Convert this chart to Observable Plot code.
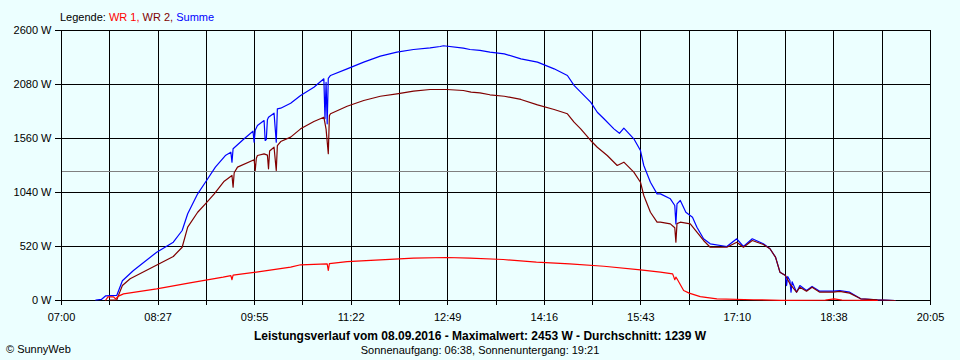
<!DOCTYPE html>
<html>
<head>
<meta charset="utf-8">
<script src="https://cdn.jsdelivr.net/npm/d3@7"></script>
<script src="https://cdn.jsdelivr.net/npm/@observablehq/plot@0.6"></script>
<style>
  html, body { margin: 0; padding: 0; background: #ECFFFF; }
  body { width: 960px; height: 360px; overflow: hidden; font-family: "Liberation Sans", Arial, sans-serif; color: #000; }
  #legend { height: 24px; box-sizing: border-box; padding-top: 12px; padding-left: 60px; font-size: 11px; line-height: 11px; white-space: nowrap; }
  #chart svg { display: block; }
  #title { padding-top: 4px; font-size: 12px; line-height: 13px; font-weight: bold; text-align: center; white-space: nowrap; }
  #sub { position: relative; padding-top: 1px; font-size: 11px; line-height: 12px; text-align: center; white-space: nowrap; }
  #copy { position: absolute; left: 6px; top: 0px; }
</style>
</head>
<body>
<div id="legend"></div>
<div id="chart"></div>
<div id="title"></div>
<div id="sub"><span id="copy"></span><span id="subtext"></span></div>
<script>
// ---- Data ----
const seriesNames = ["WR 1", "WR 2", "Summe"];
const seriesColors = ["#FF0000", "#800000", "#0000FF"];

const xTickLabels = ["07:00","08:27","09:55","11:22","12:49","14:16","15:43","17:10","18:38","20:05"];
const yTickValues = [0, 520, 1040, 1560, 2080, 2600];
const averageW = 1239;

const titleText = "Leistungsverlauf vom 08.09.2016 - Maximalwert: 2453 W - Durchschnitt: 1239 W";
const subText = "Sonnenaufgang: 06:38, Sonnenuntergang: 19:21";
const copyText = "© SunnyWeb";

// WR 1 (red)
const wr1Time = ["07:40","07:42","07:47","07:49","07:51","07:56","08:26","08:56","09:26","09:33","09:34","09:35","09:56","10:27","10:36","11:00","11:01","11:02","11:18","11:48","12:18","12:48","13:09","13:39","14:09","14:39","15:10","15:43","16:01","16:12","16:13","16:14","16:15","16:16","16:22","16:27","16:37","16:52","17:25","17:50","18:30","18:38","18:45","19:17"];
const wr1W    = [5,35,35,15,40,64,112,170,225,240,200,245,273,321,344,353,289,355,375,392,408,414,408,395,369,353,330,295,273,257,230,200,225,209,96,71,38,16,7,2,4,16,4,0];

// WR 2 (dark red)
const wr2Time = ["07:44","07:50","07:52","07:55","08:02","08:27","08:41","08:49","08:54","09:03","09:10","09:18","09:27","09:34","09:35","09:36","09:39","09:54","09:55","09:56","09:57","10:03","10:06","10:07","10:08","10:12","10:14","10:15","10:18","10:27","10:36","10:48","10:57","10:59","11:01","11:02","11:03","11:18","11:33","11:48","12:03","12:18","12:33","12:48","13:03","13:10","13:18","13:27","13:40","13:55","14:10","14:25","14:37","14:43","14:49","14:58","15:04","15:13","15:22","15:28","15:37","15:43","15:46","15:52","15:58","16:01","16:10","16:14","16:15","16:16","16:19","16:28","16:34","16:40","16:46","17:01","17:10","17:16","17:24","17:34","17:40","17:45","17:49","17:54","17:58","18:04","18:07","18:13","18:18","18:25","18:37","18:43","18:52","19:02","19:17","19:33"];
const wr2W    = [5,7,64,144,209,347,424,513,706,850,931,1027,1149,1204,1091,1230,1284,1355,1252,1370,1396,1412,1400,1268,1440,1476,1252,1492,1531,1573,1653,1724,1765,1650,1413,1780,1798,1871,1926,1967,1990,2016,2032,2032,2022,2006,2000,1981,1967,1936,1884,1839,1798,1717,1653,1541,1476,1396,1300,1332,1236,1139,1011,850,754,754,738,700,561,740,754,738,658,578,513,513,561,513,578,539,498,417,273,241,161,80,128,90,128,80,80,87,71,16,6,0];

// Summe (blue)
const sumTime = ["07:31","07:36","07:40","07:50","07:55","08:05","08:26","08:41","08:49","08:54","09:03","09:10","09:19","09:28","09:33","09:34","09:35","09:45","09:53","09:54","09:55","09:57","10:03","10:04","10:05","10:06","10:07","10:12","10:14","10:15","10:18","10:27","10:36","10:48","10:57","10:58","10:59","11:00","11:01","11:03","11:18","11:33","11:48","12:03","12:18","12:33","12:42","12:45","13:03","13:09","13:18","13:27","13:40","13:55","14:10","14:25","14:37","14:43","14:49","14:58","15:04","15:10","15:19","15:24","15:28","15:37","15:43","15:46","15:52","15:58","16:01","16:10","16:14","16:15","16:16","16:19","16:24","16:30","16:34","16:40","16:46","17:01","17:10","17:16","17:24","17:34","17:40","17:45","17:49","17:54","17:55","17:56","17:58","17:59","18:00","18:04","18:07","18:13","18:18","18:25","18:37","18:43","18:52","19:02","19:17","19:33"];
const sumW    = [5,10,45,50,190,289,465,562,674,835,1027,1139,1284,1396,1428,1332,1461,1557,1630,1525,1640,1685,1733,1541,1550,1740,1765,1804,1525,1846,1852,1900,1974,2054,2135,1750,2100,1701,2140,2167,2231,2295,2353,2391,2417,2433,2446,2453,2430,2417,2408,2391,2375,2327,2295,2231,2167,2071,2006,1910,1813,1750,1653,1610,1660,1557,1444,1300,1139,1027,1027,979,915,738,930,963,850,802,706,594,546,520,594,520,594,546,498,417,273,241,144,230,193,80,180,80,144,96,135,90,90,96,80,16,6,0];

// ---- Build ----
const toMin = s => { const [h, m] = s.split(":").map(Number); return h * 60 + m; };
const xStart = toMin(xTickLabels[0]);
const xEnd = toMin(xTickLabels[xTickLabels.length - 1]);
const nSteps = (xTickLabels.length - 1) * 2;
const step = (xEnd - xStart) / nSteps;
const xGrid = d3.range(nSteps + 1).map(i => xStart + i * step);

const mk = (times, vals) => times.map((t, i) => ({t: toMin(t), w: vals[i]}));
const series = [mk(wr1Time, wr1W), mk(wr2Time, wr2W), mk(sumTime, sumW)];

// Legend
const legend = document.getElementById("legend");
legend.innerHTML = "Legende: " + seriesNames.map((n, i) =>
  `<span style="color:${seriesColors[i]}">${n}${i < seriesNames.length - 1 ? "," : ""}</span>`).join(" ");

const chart = Plot.plot({
  width: 960,
  height: 302,
  marginTop: 6,
  marginBottom: 26,
  marginLeft: 61,
  marginRight: 30,
  style: {background: "transparent", color: "#000", fontFamily: "Liberation Sans, Arial, sans-serif", fontSize: "11px"},
  x: {domain: [xStart, xEnd], label: null},
  y: {domain: [yTickValues[0], yTickValues[yTickValues.length - 1]], label: null},
  marks: [
    Plot.ruleX(xGrid, {stroke: "#000", strokeWidth: 1, shapeRendering: "crispEdges"}),
    Plot.ruleY(yTickValues, {stroke: "#000", strokeWidth: 1, shapeRendering: "crispEdges"}),
    Plot.ruleY([averageW], {stroke: "#808080", strokeWidth: 1, shapeRendering: "crispEdges"}),
    Plot.frame({stroke: "#000", strokeWidth: 1, shapeRendering: "crispEdges"}),
    Plot.axisY(yTickValues, {tickSize: 6, tickPadding: 4, tickFormat: d => d + " W", stroke: "#000", strokeOpacity: 1, shapeRendering: "crispEdges"}),
    Plot.axisX(xGrid, {tickSize: 5, tickPadding: 8, stroke: "#000", strokeOpacity: 1, shapeRendering: "crispEdges",
      tickFormat: d => { const i = Math.round((d - xStart) / step); return i % 2 === 0 ? xTickLabels[i / 2] : ""; }}),
    Plot.line(series[2], {x: "t", y: "w", stroke: seriesColors[2], strokeWidth: 1.2}),
    Plot.line(series[1], {x: "t", y: "w", stroke: seriesColors[1], strokeWidth: 1.2}),
    Plot.line(series[0], {x: "t", y: "w", stroke: seriesColors[0], strokeWidth: 1.2})
  ]
});
document.getElementById("chart").appendChild(chart);

document.getElementById("title").textContent = titleText;
document.getElementById("subtext").textContent = subText;
document.getElementById("copy").textContent = copyText;
</script>
</body>
</html>
